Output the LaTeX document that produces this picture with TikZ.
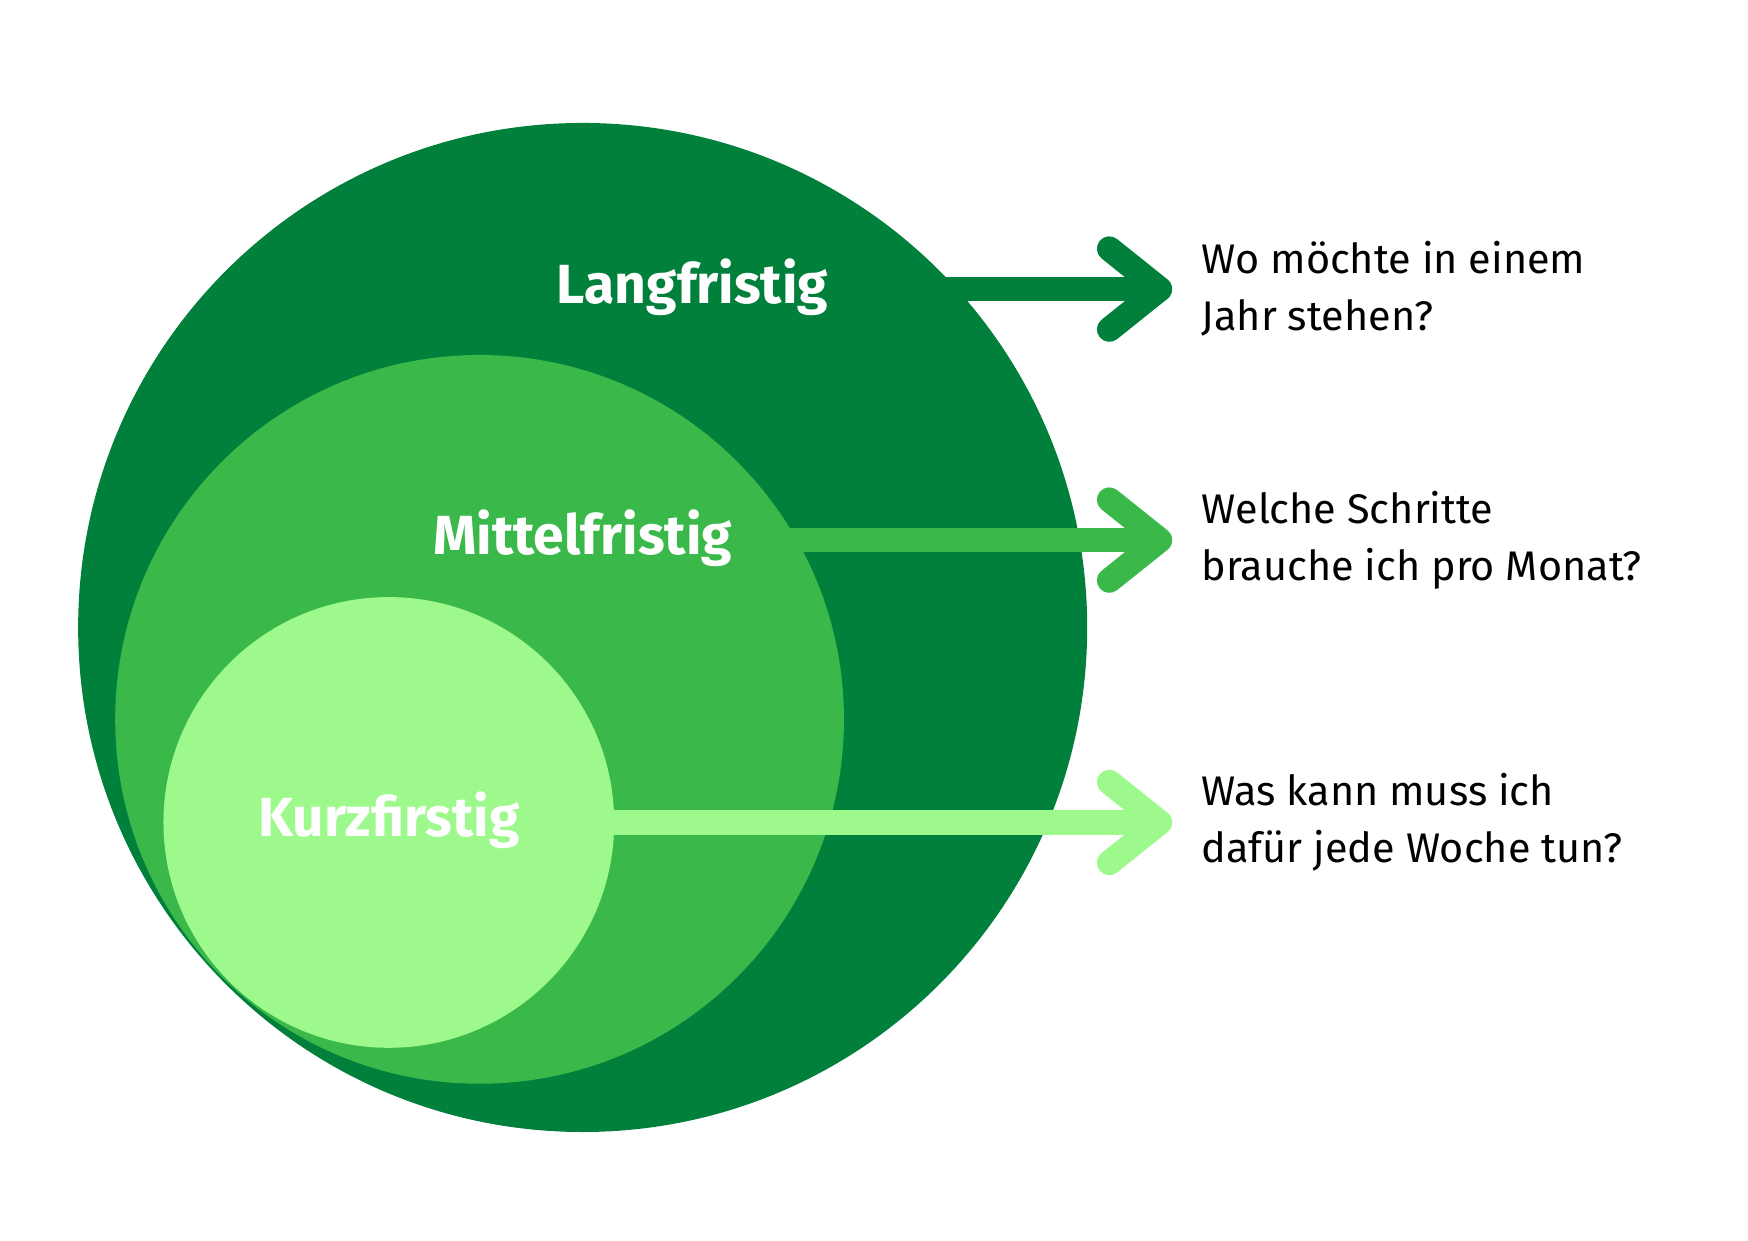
\documentclass[tikz,border=0pt]{standalone}
\usepackage{fontspec}
\setmainfont{Fira Sans}
\usepackage{tikz}
\usetikzlibrary{positioning,calc}
\definecolor{dunkel}{HTML}{00803A}
\definecolor{mittel}{HTML}{3AB94A}
\definecolor{hell}{HTML}{9EF98C}

\begin{document}
\begin{tikzpicture}[
  x=0.01cm, y=-0.01cm,
  ring/.style={circle,inner sep=0pt},
  lbl/.style={text=white,font=\fontsize{14}{16}\selectfont\bfseries},
  frage/.style={anchor=west,align=left,font=\fontsize{10.5}{14.5}\selectfont},
  pfeil/.style={line width=6.3pt},
  spitze/.style={line width=6.3pt,line cap=round,line join=round}
]
\useasboundingbox (0,0) rectangle (1560,1107);

% Kreise und Pfeile
\node[ring,fill=dunkel,minimum size=9cm] (lang) at (520,560) {};
\coordinate (p1) at (700,258);
\draw[pfeil,dunkel] (p1) -- (1030,258);
\draw[spitze,dunkel] (990,222) -- (1035,258) -- (990,294);

\node[ring,fill=mittel,minimum size=6.5cm] (mittelk) at (428,642) {};
\coordinate (p2) at (600,482);
\draw[pfeil,mittel] (p2) -- (1030,482);
\draw[spitze,mittel] (990,446) -- (1035,482) -- (990,518);

\node[ring,fill=hell,minimum size=4.02cm] (kurz) at (347,734) {};
\draw[pfeil,hell] (kurz.center) -- (1030,734);
\draw[spitze,hell] (990,698) -- (1035,734) -- (990,770);

% Beschriftungen
\node[lbl] (tlang) at (618,256) {Langfristig};
\node[lbl] (tmittel) at (520,480) {Mittelfristig};
\node[lbl] (tkurz) at (347,732) {Kurzfirstig};

\node[frage] (f1) at (1060,258) {Wo möchte in einem\\Jahr stehen?};
\node[frage] (f2) at (1060,482) {Welche Schritte\\brauche ich pro Monat?};
\node[frage] (f3) at (1060,734) {Was kann muss ich\\dafür jede Woche tun?};
\end{tikzpicture}
\end{document}
